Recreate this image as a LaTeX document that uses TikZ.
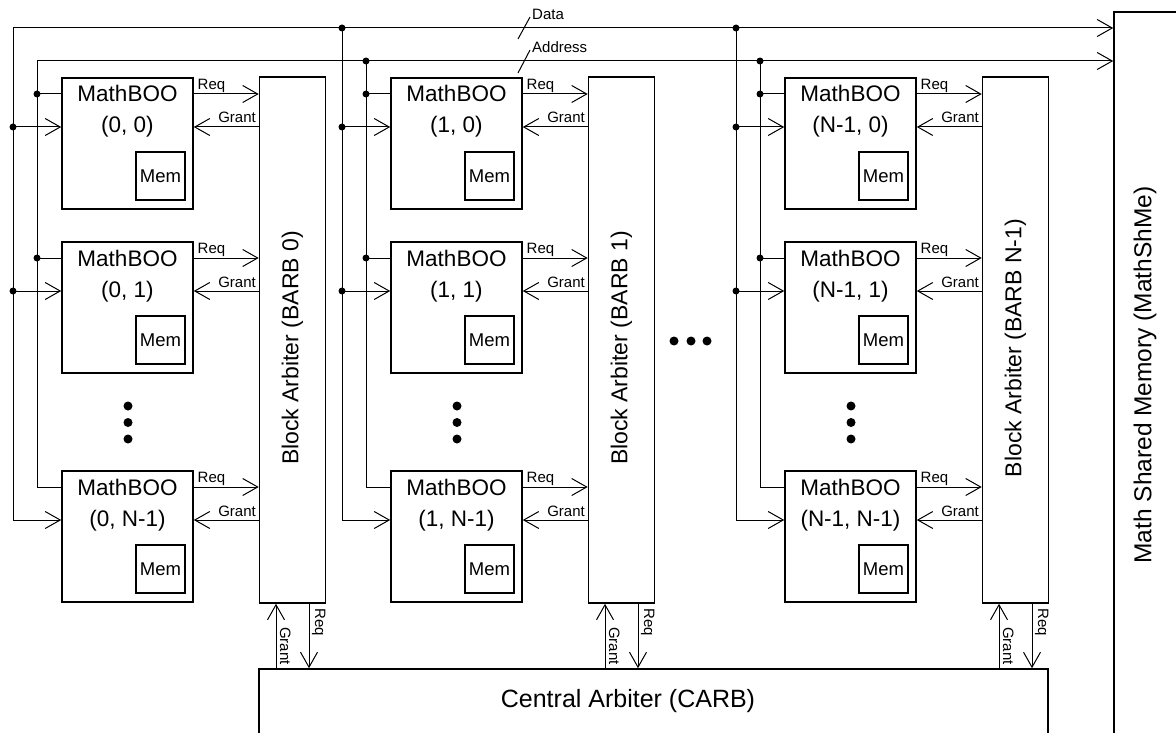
\documentclass[tikz,border=0pt]{standalone}
\usepackage{fontspec}
\setmainfont{Liberation Sans}
\usetikzlibrary{arrows.meta}
\begin{document}
\begin{tikzpicture}[x=1pt,y=-1pt,
  wire/.style={line width=1pt},
  arr/.style={wire,-{Straight Barb[length=15pt,width=17pt,line width=1pt]}},
  boxst/.style={draw,line width=1.6pt,rectangle,inner sep=0pt},
  big/.style={font=\fontsize{22.5}{27}\selectfont,inner sep=0pt},
  small/.style={font=\fontsize{15}{18}\selectfont,inner sep=0pt},
  memf/.style={font=\fontsize{18.5}{22}\selectfont},
  jdot/.style={circle,fill,inner sep=0pt,minimum size=7pt},
  edot/.style={circle,fill,inner sep=0pt,minimum size=9pt}]
\useasboundingbox (0,0) rectangle (1176,733);
\clip (0,0) rectangle (1176,733);
% shared memory and central arbiter
\node[boxst,minimum width=200pt,minimum height=800pt] (msm) at (1214,412) {};
\node[big,font=\fontsize{24.5}{29}\selectfont,rotate=90] (msmt) at (1145,375) {Math Shared Memory (MathShMe)};
\node[boxst,minimum width=789pt,minimum height=100pt] (carb) at (653.5,719) {};
\node[big,font=\fontsize{25}{30}\selectfont] (carbt) at (628,701) {Central Arbiter (CARB)};
% buses
\coordinate (dataL) at (13,28);
\coordinate (addrL) at (37,61);
\draw[arr] (dataL) -- (msm.west |- dataL);
\draw[arr] (addrL) -- (msm.west |- addrL);
\coordinate (ds1) at (518,39); \coordinate (ds2) at (530,17);
\coordinate (as1) at (518,73); \coordinate (as2) at (530,50);
\draw[wire] (ds1) -- (ds2);
\draw[wire] (as1) -- (as2);
\node[small,anchor=base west] (datat) at (532,20) {Data};
\node[small,anchor=base west] (addrt) at (532,53) {Address};
% horizontal ellipsis
\node[edot] (h1) at (674,341) {};
\node[edot] (h2) at (691,341) {};
\node[edot] (h3) at (707,341) {};
\foreach \c/\dx/\lab in {0/0/0,1/329/1,2/723/N-1}{
  \node[boxst,minimum width=66pt,minimum height=526pt] (arb\c) at (292.5+\dx,340) {};
  \node[big,font=\fontsize{23}{28}\selectfont,rotate=90] (arbt\c) at (292.5+\dx,348) {Block Arbiter (BARB \lab)};
  \coordinate (dtop\c) at (13+\dx,28);
  \coordinate (atop\c) at (37+\dx,61);
  \foreach \r/\ty/\rl in {0/78/0,1/242/1,2/471/N-1}{
    \node[boxst,minimum width=131pt,minimum height=131pt] (m\c\r) at (127.5+\dx,\ty+65.5) {};
    \node[big,anchor=base] (ta\c\r) at (127.5+\dx,\ty+24) {MathBOO};
    \node[big,anchor=base] (tb\c\r) at (127.5+\dx,\ty+55) {(\lab, \rl)};
    \node[boxst,minimum width=49pt,minimum height=48pt,memf] (mem\c\r) at (160.5+\dx,\ty+98) {Mem};
    \coordinate (rq\c\r) at (37+\dx,\ty+16);
    \coordinate (gr\c\r) at (13+\dx,\ty+49);
    \draw[arr] (m\c\r.east |- rq\c\r) -- (arb\c.west |- rq\c\r);
    \draw[arr] (arb\c.west |- gr\c\r) -- (m\c\r.east |- gr\c\r);
    \node[small,anchor=base west] (rqt\c\r) at (197.5+\dx,\ty+11.5) {Req};
    \node[small,anchor=base east] (grt\c\r) at (256+\dx,\ty+45) {Grant};
  }
  \draw[arr] (dtop\c) |- (m\c2.west |- gr\c2);
  \draw[wire] (atop\c) |- (m\c2.west |- rq\c2);
  \foreach \r in {0,1}{
    \draw[wire] (rq\c\r) -- (m\c\r.west |- rq\c\r);
    \draw[arr] (gr\c\r) -- (m\c\r.west |- gr\c\r);
    \node[jdot] (jr\c\r) at (rq\c\r) {};
    \node[jdot] (jg\c\r) at (gr\c\r) {};
  }
  \node[edot] (v1\c) at (128+\dx,406) {};
  \node[edot] (v2\c) at (128+\dx,422.5) {};
  \node[edot] (v3\c) at (128+\dx,439) {};
  \coordinate (gx\c) at (276+\dx,0);
  \coordinate (rx\c) at (309+\dx,0);
  \draw[arr] (carb.north -| gx\c) -- (arb\c.south -| gx\c);
  \draw[arr] (arb\c.south -| rx\c) -- (carb.north -| rx\c);
  \node[small,rotate=-90,anchor=base west] (gbt\c) at (280+\dx,627) {Grant};
  \node[small,rotate=-90,anchor=base west] (rbt\c) at (315+\dx,608) {Req};
}
\node[jdot] (jd1) at (dtop1) {};
\node[jdot] (ja1) at (atop1) {};
\node[jdot] (jd2) at (dtop2) {};
\node[jdot] (ja2) at (atop2) {};
\end{tikzpicture}
\end{document}
